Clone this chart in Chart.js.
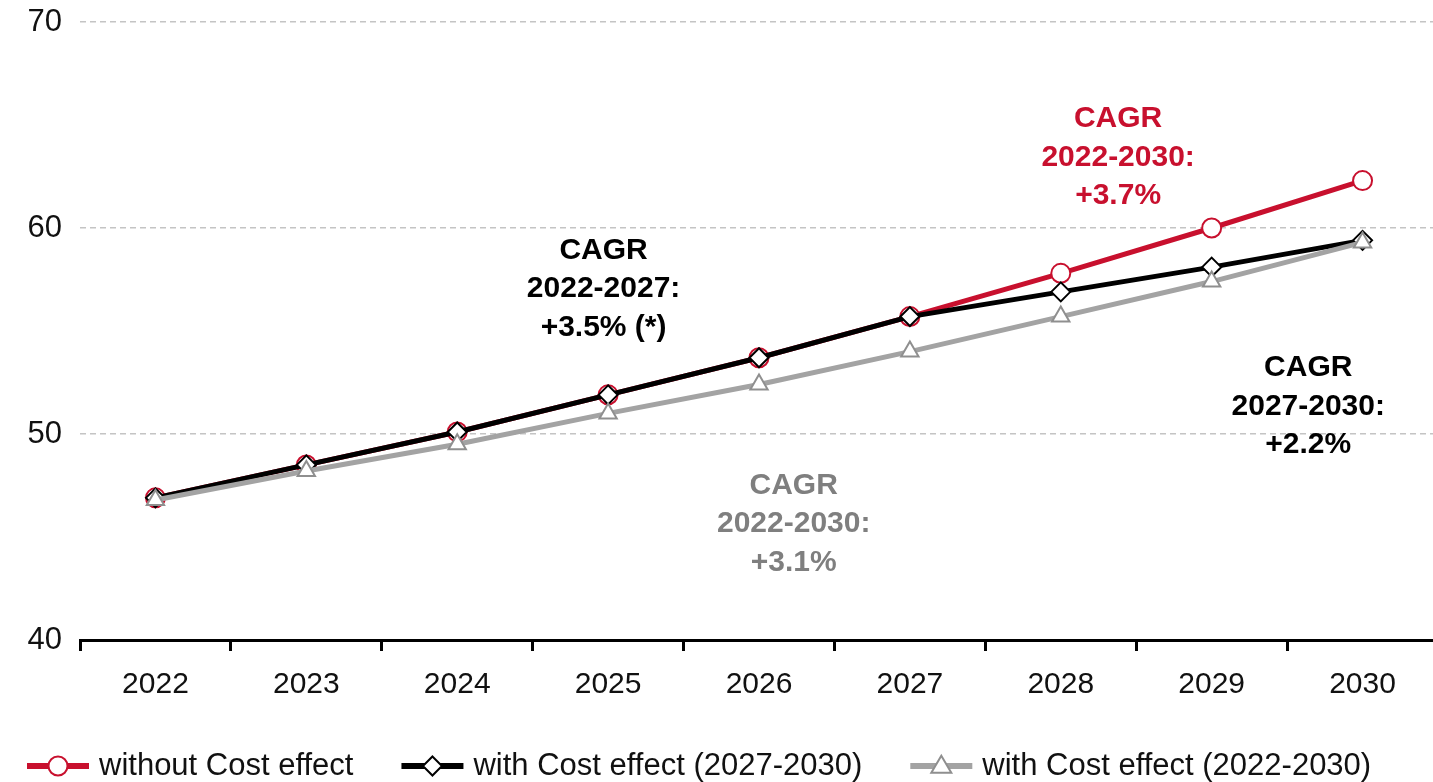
<!DOCTYPE html>
<html>
<head>
<meta charset="utf-8">
<script src="https://cdn.jsdelivr.net/npm/chart.js@4"></script>
<style>
  html, body { margin: 0; padding: 0; background: #ffffff; overflow: hidden; }
  #wrap { position: relative; width: 1450px; height: 782px; }
</style>
</head>
<body>
<div id="wrap"><canvas id="c"></canvas></div>
<script>
// ---- data ----
const categories = ['2022', '2023', '2024', '2025', '2026', '2027', '2028', '2029', '2030'];
const withoutCost = [46.9, 48.5, 50.1, 51.9, 53.7, 55.7, 57.8, 60.0, 62.3];
const withCost2027 = [46.9, 48.5, 50.1, 51.9, 53.7, 55.7, 56.9, 58.1, 59.4];
const withCost2022 = [46.8, 48.2, 49.5, 51.0, 52.4, 54.0, 55.7, 57.4, 59.3];
const seriesNames = ['without Cost effect', 'with Cost effect (2027-2030)', 'with Cost effect (2022-2030)'];
const yTicks = [40, 50, 60, 70];

const cagrRed = ['CAGR', '2022-2030:', '+3.7%'];
const cagrBlack1 = ['CAGR', '2022-2027:', '+3.5% (*)'];
const cagrGray = ['CAGR', '2022-2030:', '+3.1%'];
const cagrBlack2 = ['CAGR', '2027-2030:', '+2.2%'];

// ---- styling / placement ----
const RED = '#c8102e', BLACK = '#000000', GRAY = '#a3a3a3', GRAYTXT = '#7f7f7f';
const FONT = '"Liberation Sans", Arial, Helvetica, sans-serif';

const annotations = [
  { lines: cagrRed,    color: RED,     xi: 6.38, yv: 65.3 },
  { lines: cagrBlack1, color: BLACK,   xi: 2.97, yv: 58.9 },
  { lines: cagrGray,   color: GRAYTXT, xi: 4.23, yv: 47.5 },
  { lines: cagrBlack2, color: BLACK,   xi: 7.64, yv: 53.2 }
];

function drawMarkerPath(ctx, style, cx, cy, r) {
  if (style === 'circle') {
    ctx.arc(cx, cy, r, 0, Math.PI * 2);
  } else if (style === 'rectRot') {
    ctx.moveTo(cx, cy - r); ctx.lineTo(cx + r, cy); ctx.lineTo(cx, cy + r); ctx.lineTo(cx - r, cy); ctx.closePath();
  } else {
    const h = r * 1.7;
    ctx.moveTo(cx, cy - h * 0.6); ctx.lineTo(cx + r, cy + h * 0.4); ctx.lineTo(cx - r, cy + h * 0.4); ctx.closePath();
  }
}

const annotationPlugin = {
  id: 'cagrText',
  afterDatasetsDraw(chart) {
    const ctx = chart.ctx;
    const xs = chart.scales.x, ys = chart.scales.y;
    ctx.save();
    ctx.font = 'bold 30px ' + FONT;
    ctx.textAlign = 'center';
    ctx.textBaseline = 'middle';
    annotations.forEach(a => {
      const px = xs.getPixelForValue(a.xi);
      const py = ys.getPixelForValue(a.yv);
      ctx.fillStyle = a.color;
      a.lines.forEach((t, i) => ctx.fillText(t, px, py + i * 38.5));
    });
    ctx.restore();
  }
};

const legendPlugin = {
  id: 'customLegend',
  afterDraw(chart) {
    const ctx = chart.ctx;
    const y = 766;
    const boxW = 62, gapText = 10, gapItem = 48;
    let x = 27;
    ctx.save();
    ctx.font = '31px ' + FONT;
    ctx.textBaseline = 'middle';
    ctx.textAlign = 'left';
    chart.data.datasets.forEach(ds => {
      ctx.strokeStyle = ds.borderColor;
      ctx.lineWidth = 6;
      ctx.beginPath();
      ctx.moveTo(x, y);
      ctx.lineTo(x + boxW, y);
      ctx.stroke();
      ctx.fillStyle = '#ffffff';
      ctx.strokeStyle = ds.pointBorderColor;
      ctx.lineWidth = 2;
      ctx.beginPath();
      drawMarkerPath(ctx, ds.pointStyle, x + boxW / 2, y, ds.pointRadius);
      ctx.fill();
      ctx.stroke();
      ctx.fillStyle = '#111111';
      ctx.fillText(ds.label, x + boxW + gapText, y);
      x += boxW + gapText + ctx.measureText(ds.label).width + gapItem;
    });
    ctx.restore();
  }
};

new Chart(document.getElementById('c'), {
  type: 'line',
  data: {
    labels: categories,
    datasets: [
      { label: seriesNames[0], data: withoutCost, borderColor: RED, borderWidth: 5,
        pointStyle: 'circle', pointRadius: 9.5, pointBackgroundColor: '#ffffff', pointBorderColor: RED,
        pointBorderWidth: 2, order: 3, tension: 0 },
      { label: seriesNames[1], data: withCost2027, borderColor: BLACK, borderWidth: 5,
        pointStyle: 'rectRot', pointRadius: 9.5, pointBackgroundColor: '#ffffff', pointBorderColor: BLACK,
        pointBorderWidth: 2, order: 2, tension: 0 },
      { label: seriesNames[2], data: withCost2022, borderColor: GRAY, borderWidth: 5,
        pointStyle: 'triangle', pointRadius: 10, pointBackgroundColor: '#ffffff', pointBorderColor: '#8f8f8f',
        pointBorderWidth: 2, order: 1, tension: 0 }
    ]
  },
  options: {
    responsive: true,
    maintainAspectRatio: false,
    animation: false,
    layout: { padding: { top: 22, right: 2, bottom: 63, left: 0 } },
    plugins: {
      legend: { display: false },
      tooltip: { enabled: false }
    },
    scales: {
      x: {
        type: 'category',
        offset: true,
        grid: { offset: true, drawOnChartArea: false, drawTicks: true, tickLength: 11, tickWidth: 3, tickColor: '#000000' },
        border: { display: true, color: '#000000', width: 3 },
        ticks: { color: '#111111', font: { family: FONT, size: 30 }, padding: 16, maxRotation: 0 }
      },
      y: {
        min: 40, max: 70,
        afterBuildTicks(scale) { scale.ticks = yTicks.map(v => ({ value: v })); },
        afterFit(scale) { scale.width = 80; scale.paddingTop = 0; scale.paddingBottom = 0; },
        grid: { color: '#c4c4c4', lineWidth: 1.5, drawTicks: false },
        border: { display: false, dash: [6, 4] },
        ticks: { color: '#111111', font: { family: FONT, size: 31 }, padding: 18 }
      }
    }
  },
  plugins: [annotationPlugin, legendPlugin]
});
</script>
</body>
</html>
